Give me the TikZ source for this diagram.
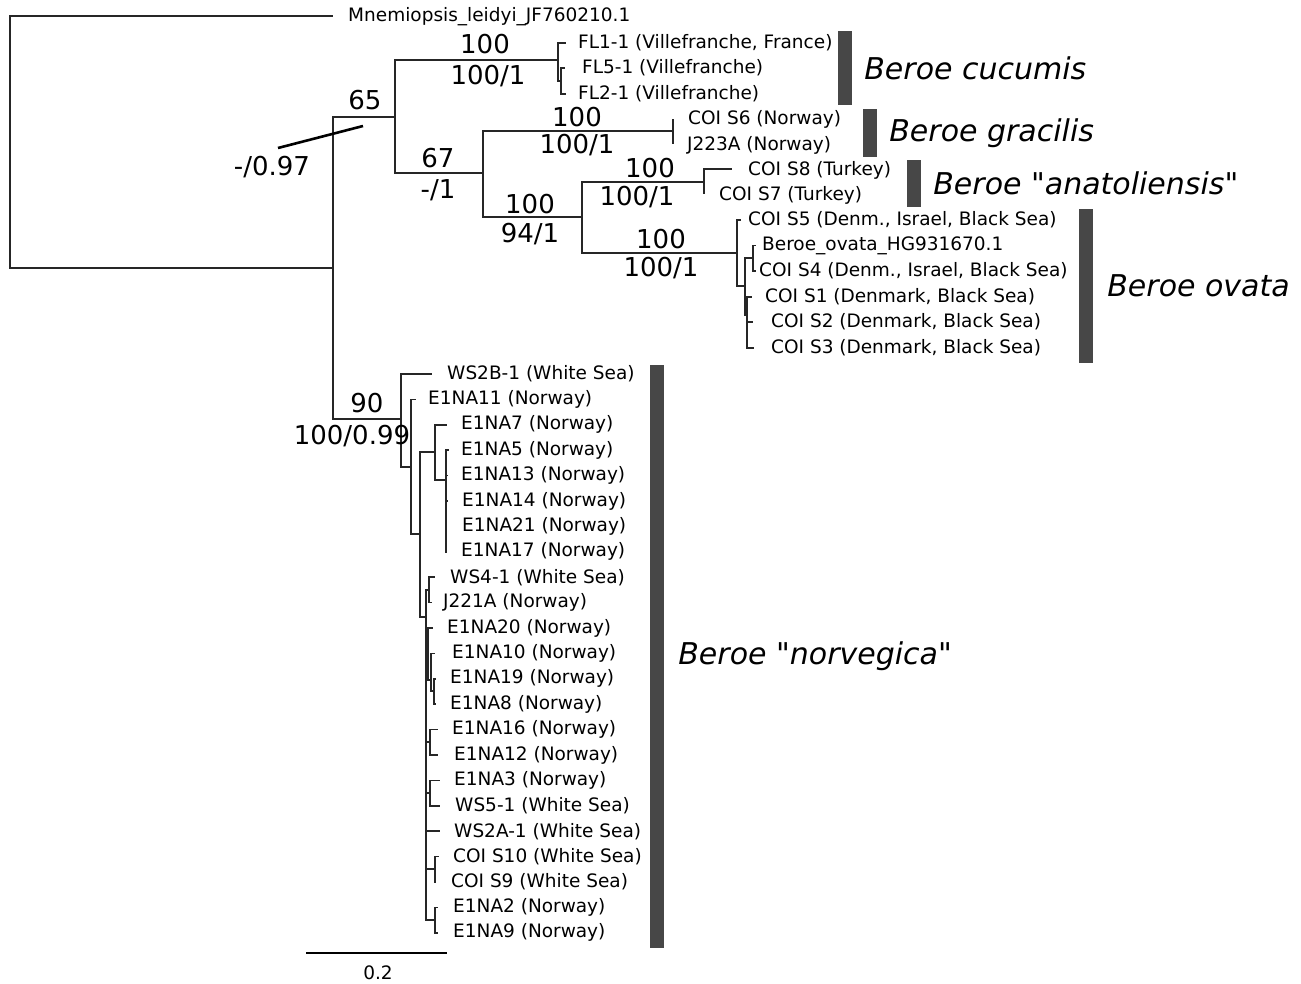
\documentclass[tikz,border=0pt]{standalone}
\usepackage{fontspec}
\setmainfont{DejaVu Sans}[Ligatures=TeXOff]
\usepackage{tikz}
\usetikzlibrary{positioning}

\begin{document}
\begin{tikzpicture}[
  x=1pt, y=-1pt,
  br/.style={line width=1.5pt, draw=black!85},
  leaf/.style={anchor=west, inner sep=0pt, font=\fontsize{18.5}{20}\selectfont},
  bsup/.style={inner sep=0pt, font=\fontsize{26}{28}\selectfont},
  bar/.style={fill=black!72, draw=none, minimum width=14pt, inner sep=0pt},
  species/.style={anchor=west, inner sep=0pt, font=\fontsize{30}{32}\selectfont\itshape}
]
  \useasboundingbox (0,0) rectangle (1301,983);

  % internal nodes
  \coordinate (root) at (10,142);
  \coordinate (nA) at (333,268);
  \coordinate (n65) at (395,117);
  \coordinate (nfl) at (558,60);
  \coordinate (nflb) at (561,81);
  \coordinate (n67) at (483,173);
  \coordinate (ngr) at (673,131);
  \coordinate (n94) at (582,217);
  \coordinate (ntu) at (704,182);
  \coordinate (nov) at (737,253);
  \coordinate (novb) at (745,286);
  \coordinate (novc) at (753,258);
  \coordinate (novd) at (747,315);
  \coordinate (n90) at (401,419);
  \coordinate (nb1) at (411,467);
  \coordinate (nb2) at (420,534);
  \coordinate (nb3) at (435,452);
  \coordinate (nb4) at (446,480);
  \coordinate (nb5) at (426,617);
  \coordinate (nb6) at (429,590);
  \coordinate (nb7) at (428,660);
  \coordinate (nb8) at (431,680);
  \coordinate (nb9) at (434,691);
  \coordinate (nb10) at (430,742);
  \coordinate (nb11) at (430,793);
  \coordinate (nb12) at (435,869);
  \coordinate (nb13) at (435,920);

  % tips
  \coordinate (tmne) at (333,16);
  \coordinate (tfl1) at (566,43);
  \coordinate (tfl5) at (565,68);
  \coordinate (tfl2) at (566,94);
  \coordinate (ts6) at (673,119);
  \coordinate (tj223) at (673,144);
  \coordinate (ts8) at (732,169);
  \coordinate (ts7) at (704,194);
  \coordinate (ts5) at (741,220);
  \coordinate (tbov) at (756,245.5);
  \coordinate (ts4) at (756,271);
  \coordinate (ts1) at (752,297);
  \coordinate (ts2) at (753,322);
  \coordinate (ts3) at (754,348);
  \coordinate (tws2b) at (432,374);
  \coordinate (te11) at (416,399.4);
  \coordinate (te7) at (447,424.8);
  \coordinate (te5) at (449,450.2);
  \coordinate (te13) at (448,475.6);
  \coordinate (te14) at (448,501);
  \coordinate (te21) at (447,526.4);
  \coordinate (te17) at (447,551.8);
  \coordinate (tws4) at (435,577.2);
  \coordinate (tj221) at (432,602.6);
  \coordinate (te20) at (433,628);
  \coordinate (te10) at (435,653.4);
  \coordinate (te19) at (436,678.8);
  \coordinate (te8) at (436,704.2);
  \coordinate (te16) at (438,729.6);
  \coordinate (te12) at (438,755);
  \coordinate (te3) at (440,780.4);
  \coordinate (tws5) at (440,805.8);
  \coordinate (tws2a) at (440,831.2);
  \coordinate (ts10) at (439,856.6);
  \coordinate (ts9) at (436,882);
  \coordinate (te2) at (438,907.4);
  \coordinate (te9) at (438,932.8);

  % leaf labels
  \node[leaf] (lmne) at (348,17) {Mnemiopsis\_leidyi\_JF760210.1};
  \node[leaf] (lfl1) at (578,43) {FL1-1 (Villefranche, France)};
  \node[leaf] (lfl5) at (582,68) {FL5-1 (Villefranche)};
  \node[leaf] (lfl2) at (578,94) {FL2-1 (Villefranche)};
  \node[leaf] (ls6) at (688,119) {COI S6 (Norway)};
  \node[leaf] (lj223) at (687,145) {J223A (Norway)};
  \node[leaf] (ls8) at (748,170) {COI S8 (Turkey)};
  \node[leaf] (ls7) at (719,195) {COI S7 (Turkey)};
  \node[leaf] (ls5) at (748,220) {COI S5 (Denm., Israel, Black Sea)};
  \node[leaf] (lbov) at (762,245.5) {Beroe\_ovata\_HG931670.1};
  \node[leaf] (ls4) at (759,271) {COI S4 (Denm., Israel, Black Sea)};
  \node[leaf] (ls1) at (765,297) {COI S1 (Denmark, Black Sea)};
  \node[leaf] (ls2) at (771,322) {COI S2 (Denmark, Black Sea)};
  \node[leaf] (ls3) at (771,348) {COI S3 (Denmark, Black Sea)};
  \node[leaf] (lws2b) at (447,374) {WS2B-1 (White Sea)};
  \node[leaf] (le11) at (428,399.4) {E1NA11 (Norway)};
  \node[leaf] (le7) at (461,424.8) {E1NA7 (Norway)};
  \node[leaf] (le5) at (461,450.2) {E1NA5 (Norway)};
  \node[leaf] (le13) at (461,475.6) {E1NA13 (Norway)};
  \node[leaf] (le14) at (462,501) {E1NA14 (Norway)};
  \node[leaf] (le21) at (462,526.4) {E1NA21 (Norway)};
  \node[leaf] (le17) at (461,551.8) {E1NA17 (Norway)};
  \node[leaf] (lws4) at (450,577.2) {WS4-1 (White Sea)};
  \node[leaf] (lj221) at (443,602.6) {J221A (Norway)};
  \node[leaf] (le20) at (447,628) {E1NA20 (Norway)};
  \node[leaf] (le10) at (452,653.4) {E1NA10 (Norway)};
  \node[leaf] (le19) at (450,678.8) {E1NA19 (Norway)};
  \node[leaf] (le8) at (450,704.2) {E1NA8 (Norway)};
  \node[leaf] (le16) at (452,729.6) {E1NA16 (Norway)};
  \node[leaf] (le12) at (454,755) {E1NA12 (Norway)};
  \node[leaf] (le3) at (454,780.4) {E1NA3 (Norway)};
  \node[leaf] (lws5) at (455,805.8) {WS5-1 (White Sea)};
  \node[leaf] (lws2a) at (454,831.2) {WS2A-1 (White Sea)};
  \node[leaf] (ls10) at (453,856.6) {COI S10 (White Sea)};
  \node[leaf] (ls9) at (451,882) {COI S9 (White Sea)};
  \node[leaf] (le2) at (453,907.4) {E1NA2 (Norway)};
  \node[leaf] (le9) at (453,932.8) {E1NA9 (Norway)};

  % branches
  \draw[br] (root) |- (tmne) (root) |- (nA);
  \draw[br] (nA) |- (n65) (nA) |- (n90);
  \draw[br] (n65) |- (nfl) (n65) |- (n67);
  \draw[br] (nfl) |- (tfl1) (nfl) |- (nflb);
  \draw[br] (nflb) |- (tfl5) (nflb) |- (tfl2);
  \draw[br] (n67) |- (ngr) (n67) |- (n94);
  \draw[br] (ngr) |- (ts6) (ngr) |- (tj223);
  \draw[br] (n94) |- (ntu) (n94) |- (nov);
  \draw[br] (ntu) |- (ts8) (ntu) |- (ts7);
  \draw[br] (nov) |- (ts5) (nov) |- (novb);
  \draw[br] (novb) |- (novc) (novb) |- (novd);
  \draw[br] (novc) |- (tbov) (novc) |- (ts4);
  \draw[br] (novd) |- (ts1) (novd) |- (ts2) (novd) |- (ts3);
  \draw[br] (n90) |- (tws2b) (n90) |- (nb1);
  \draw[br] (nb1) |- (te11) (nb1) |- (nb2);
  \draw[br] (nb2) |- (nb3) (nb2) |- (nb5);
  \draw[br] (nb3) |- (te7) (nb3) |- (nb4);
  \draw[br] (nb4) |- (te5) (nb4) |- (te13) (nb4) |- (te14) (nb4) |- (te21) (nb4) |- (te17);
  \draw[br] (nb5) |- (nb6) (nb5) |- (nb7) (nb5) |- (nb10) (nb5) |- (nb11)
            (nb5) |- (tws2a) (nb5) |- (nb12) (nb5) |- (nb13);
  \draw[br] (nb6) |- (tws4) (nb6) |- (tj221);
  \draw[br] (nb7) |- (te20) (nb7) |- (nb8);
  \draw[br] (nb8) |- (te10) (nb8) |- (nb9);
  \draw[br] (nb9) |- (te19) (nb9) |- (te8);
  \draw[br] (nb10) |- (te16) (nb10) |- (te12);
  \draw[br] (nb11) |- (te3) (nb11) |- (tws5);
  \draw[br] (nb12) |- (ts10) (nb12) |- (ts9);
  \draw[br] (nb13) |- (te2) (nb13) |- (te9);

  % support values
  \node[bsup] (s65) at (365,100) {65};
  \node[bsup] (s097) at (272,167) {-/0.97};
  \coordinate (sl1) at (278,148);
  \coordinate (sl2) at (363,126);
  \draw[line width=2.6pt] (sl1) -- (sl2);
  \node[bsup] (sfla) at (485,44) {100};
  \node[bsup] (sflb) at (488,76) {100/1};
  \node[bsup] (s67a) at (438,158) {67};
  \node[bsup] (s67b) at (438,190) {-/1};
  \node[bsup] (sgra) at (577,117) {100};
  \node[bsup] (sgrb) at (577,145) {100/1};
  \node[bsup] (s94a) at (530,204) {100};
  \node[bsup] (s94b) at (530,234) {94/1};
  \node[bsup] (stua) at (650,168) {100};
  \node[bsup] (stub) at (637,197) {100/1};
  \node[bsup] (sova) at (661,239) {100};
  \node[bsup] (sovb) at (661,268) {100/1};
  \node[bsup] (s90a) at (367,403) {90};
  \node[bsup] (s90b) at (352,436) {100/0.99};

  % clade bars
  \node[bar, minimum height=74pt] (bcuc) at (845,68) {};
  \node[species, right=12pt of bcuc] (ncuc) {Beroe cucumis};
  \node[bar, minimum height=48pt] (bgra) at (870,133) {};
  \node[species, right=12pt of bgra] (ngra) {Beroe gracilis};
  \node[bar, minimum height=47pt] (bana) at (914,183.5) {};
  \node[species, right=12pt of bana] (nana) {Beroe "anatoliensis"};
  \node[bar, minimum height=154pt] (bova) at (1086,286) {};
  \node[species, right=14pt of bova] (nova) {Beroe ovata};
  \node[bar, minimum height=583pt] (bnor) at (657,656.5) {};
  \node[species, right=14pt of bnor] (nnor) {Beroe "norvegica"};

  % scale bar
  \coordinate (sbl) at (306,953);
  \coordinate (sbr) at (447,953);
  \draw[line width=1.2pt] (sbl) -- (sbr);
  \node[leaf, anchor=center] (sbt) at (378,973) {0.2};
\end{tikzpicture}
\end{document}
